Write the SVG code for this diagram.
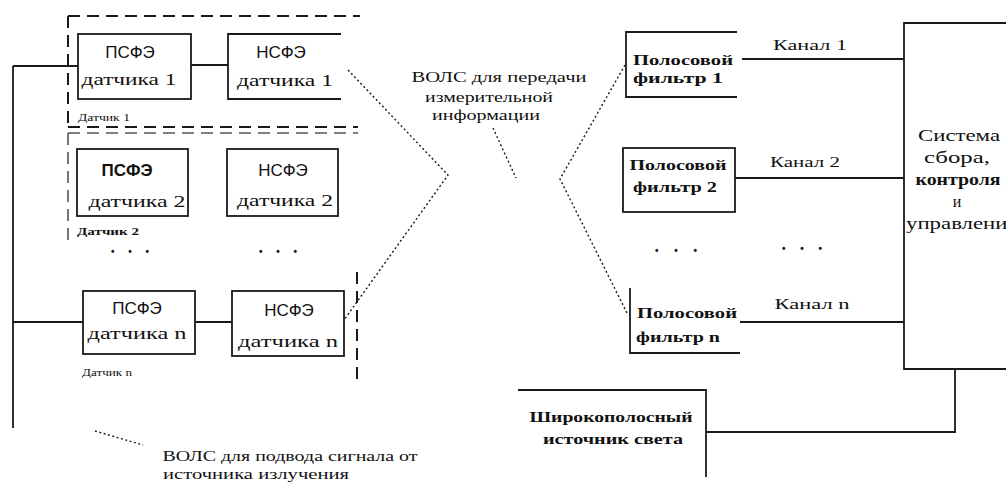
<svg xmlns="http://www.w3.org/2000/svg" width="1006" height="484" viewBox="0 0 1006 484">
<style>
.ln{stroke:#1a1a1a;stroke-width:1.8;fill:none}
.dash{stroke:#1a1a1a;stroke-width:2;fill:none;stroke-dasharray:12 7}
.dashl{stroke:#555;stroke-width:1.6;fill:none;stroke-dasharray:12 7}
.dot{stroke:#1a1a1a;stroke-width:1.4;fill:none;stroke-dasharray:2 2.5}
.sans{font-family:"Liberation Sans",Arial,sans-serif;font-size:17px;fill:#111;text-anchor:middle;dominant-baseline:central}
.ser{font-family:"Liberation Serif","Times New Roman",serif;font-size:17px;fill:#111;text-anchor:middle;dominant-baseline:central}
.serb{font-family:"Liberation Serif","Times New Roman",serif;font-size:15px;font-weight:bold;fill:#111;text-anchor:middle;dominant-baseline:central}
.sys{font-family:"Liberation Serif","Times New Roman",serif;font-size:16px;fill:#111;text-anchor:middle;dominant-baseline:central}
.sm{font-family:"Liberation Serif","Times New Roman",serif;font-size:10px;fill:#111;dominant-baseline:central}
.lbl{font-family:"Liberation Serif","Times New Roman",serif;font-size:14px;fill:#111;text-anchor:middle;dominant-baseline:central}
.dots{font-family:"Liberation Sans",Arial,sans-serif;font-size:10px;font-weight:bold;fill:#111;text-anchor:middle;dominant-baseline:central}
</style>
<rect width="1006" height="484" fill="#fff"/>

<g id="sensor-groups">
  <path class="dash" d="M68 16 H360 M68 16 V128 M68 127 H358"/>
  <path class="dashl" d="M68 133 H358 M68 133 V240"/>
  <path class="dash" d="M357 272 V385"/>
  <text class="sm" x="78" y="117" textLength="52" lengthAdjust="spacingAndGlyphs">Датчик 1</text>
  <text class="sm" x="77" y="231" font-weight="bold" font-size="11" textLength="62" lengthAdjust="spacingAndGlyphs">Датчик 2</text>
  <text class="sm" x="82" y="372" textLength="50" lengthAdjust="spacingAndGlyphs">Датчик n</text>
</g>

<g id="psfe1">
  <rect class="ln" x="78" y="34" width="113" height="65"/>
  <text class="sans" x="130" y="52">ПСФЭ</text>
  <text class="ser" x="129" y="79" textLength="95" lengthAdjust="spacingAndGlyphs">датчика 1</text>
</g>
<g id="nsfe1">
  <path class="ln" d="M341 34 H228 V99 H341"/>
  <text class="sans" x="281" y="52">НСФЭ</text>
  <text class="ser" x="285" y="80" textLength="96" lengthAdjust="spacingAndGlyphs">датчика 1</text>
</g>
<g id="psfe2">
  <rect class="ln" x="77" y="149" width="111" height="67"/>
  <text class="sans" x="127" y="170" font-weight="bold">ПСФЭ</text>
  <text class="ser" x="137" y="201" textLength="97" lengthAdjust="spacingAndGlyphs">датчика 2</text>
</g>
<g id="nsfe2">
  <rect class="ln" x="227" y="149" width="111" height="67"/>
  <text class="sans" x="283" y="170">НСФЭ</text>
  <text class="ser" x="285" y="200" textLength="96" lengthAdjust="spacingAndGlyphs">датчика 2</text>
</g>
<g id="psfen">
  <rect class="ln" x="83" y="291" width="112" height="63"/>
  <text class="sans" x="137" y="308">ПСФЭ</text>
  <text class="ser" x="137" y="333" textLength="99" lengthAdjust="spacingAndGlyphs">датчика n</text>
</g>
<g id="nsfen">
  <rect class="ln" x="232" y="291" width="112" height="65"/>
  <text class="sans" x="289" y="310">НСФЭ</text>
  <text class="ser" x="288" y="341" textLength="100" lengthAdjust="spacingAndGlyphs">датчика n</text>
</g>

<g id="ellipsis">
  <text class="dots" x="130" y="251" textLength="38" lengthAdjust="spacing">• • •</text>
  <text class="dots" x="278" y="251" textLength="38" lengthAdjust="spacing">• • •</text>
  <text class="dots" x="676" y="250" textLength="42" lengthAdjust="spacing">• • •</text>
  <text class="dots" x="802" y="248" textLength="40" lengthAdjust="spacing">• • •</text>
</g>

<g id="filter1">
  <path class="ln" d="M737 32 H626 V97 H737"/>
  <text class="serb" x="683" y="60" textLength="100" lengthAdjust="spacingAndGlyphs">Полосовой</text>
  <text class="serb" x="678" y="78" textLength="90" lengthAdjust="spacingAndGlyphs">фильтр 1</text>
</g>
<g id="filter2">
  <rect class="ln" x="623" y="148" width="112" height="64"/>
  <text class="serb" x="678" y="165" textLength="97" lengthAdjust="spacingAndGlyphs">Полосовой</text>
  <text class="serb" x="675" y="187" textLength="84" lengthAdjust="spacingAndGlyphs">фильтр 2</text>
</g>
<g id="filtern">
  <path class="ln" d="M630 288 V353 H740"/>
  <text class="serb" x="687" y="313" textLength="100" lengthAdjust="spacingAndGlyphs">Полосовой</text>
  <text class="serb" x="678" y="337" textLength="84" lengthAdjust="spacingAndGlyphs">фильтр n</text>
</g>

<g id="system">
  <path class="ln" d="M1008 23 H904 V369 H1008"/>
  <text class="sys" x="959" y="135" textLength="82" lengthAdjust="spacingAndGlyphs">Система</text>
  <text class="sys" x="957" y="157" textLength="66" lengthAdjust="spacingAndGlyphs">сбора,</text>
  <text class="sys" x="958" y="179" font-weight="bold" textLength="85" lengthAdjust="spacingAndGlyphs">контроля</text>
  <text class="sys" x="957" y="201">и</text>
  <text class="sys" x="962" y="223" textLength="112" lengthAdjust="spacingAndGlyphs">управления</text>
</g>

<g id="light-source">
  <path class="ln" d="M518 390 H706 V477"/>
  <text class="serb" x="611" y="417" textLength="163" lengthAdjust="spacingAndGlyphs">Широкополосный</text>
  <text class="serb" x="613" y="439" font-weight="normal" textLength="140" lengthAdjust="spacingAndGlyphs">источник света</text>
</g>

<g id="connectors">
  <path class="ln" d="M13 66 V428 M13 66 H78 M13 322 H83"/>
  <path class="ln" d="M191 65 H228 M195 322 H232"/>
  <path class="ln" d="M742 59 H904 M735 178 H904 M740 322 H904"/>
  <path class="ln" d="M706 432 H955 V369"/>
  <path class="dot" d="M348 70 L448 175 L344 320"/>
  <path class="dot" d="M493 128 L516 178"/>
  <path class="dot" d="M625 65 L560 179 L628 315"/>
  <path class="dot" d="M95 431 L143 445"/>
  <text class="lbl" x="810" y="45" textLength="74" lengthAdjust="spacingAndGlyphs">Канал 1</text>
  <text class="lbl" x="805" y="162" textLength="70" lengthAdjust="spacingAndGlyphs">Канал 2</text>
  <text class="lbl" x="812" y="304" textLength="75" lengthAdjust="spacingAndGlyphs">Канал n</text>
  <text class="lbl" x="499" y="77" textLength="175" lengthAdjust="spacingAndGlyphs">ВОЛС для передачи</text>
  <text class="lbl" x="489" y="97" textLength="128" lengthAdjust="spacingAndGlyphs">измерительной</text>
  <text class="lbl" x="486" y="115" textLength="108" lengthAdjust="spacingAndGlyphs">информации</text>
  <text class="lbl" x="290" y="456" textLength="255" lengthAdjust="spacingAndGlyphs">ВОЛС для подвода сигнала от</text>
  <text class="lbl" x="256" y="474" textLength="186" lengthAdjust="spacingAndGlyphs">источника излучения</text>
</g>
</svg>
